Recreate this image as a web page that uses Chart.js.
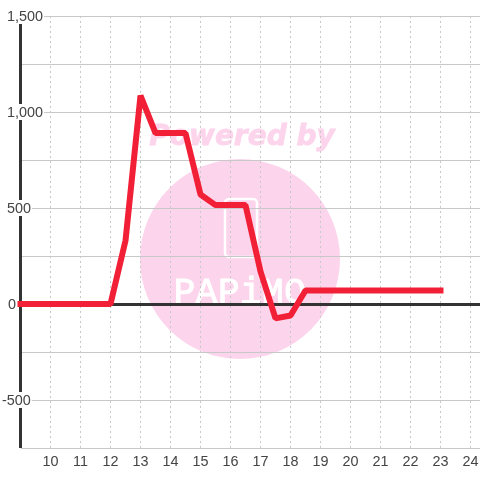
<!DOCTYPE html>
<html><head><meta charset="utf-8">
<style>html,body{margin:0;padding:0;background:#fff}#w{width:480px;height:480px}</style>
<script src="https://cdn.jsdelivr.net/npm/chart.js@4"></script></head>
<body><div id="w"><canvas id="c" width="480" height="480"></canvas></div>
<script>
const xValues=[9,10,11,12,12.5,13,13.5,14,14.5,15,15.5,16,16.5,17,17.5,18,18.5,19,20,21,22,23];
const yValues=[0,0,0,0,330,1085,890,890,890,570,515,515,515,170,-75,-60,70,70,70,70,70,70];
const yTickValues=[1500,1000,500,0,-500];
const yTickLabels=['1,500','1,000','500','0','-500'];
const yTickLeft=[7,7,7,8,2];
const watermarkTitle='Powered by';
const watermarkBrand='PAPiMO';
const font='14.4px "Liberation Sans"';

const watermark={id:'watermark',beforeDraw(ch){
  const g=ch.ctx;g.save();
  g.fillStyle='#fff';g.fillRect(0,0,480,480);
  g.fillStyle='#fcd5ec';
  g.beginPath();g.arc(240,259,100,0,Math.PI*2);g.fill();
  g.font='italic bold 28px "DejaVu Sans"';g.textAlign='center';g.textBaseline='alphabetic';
  g.strokeStyle='#fcd5ec';g.lineWidth=0.8;
  g.fillText(watermarkTitle,242,145);g.strokeText(watermarkTitle,242,145);
  g.strokeStyle='#fff';g.lineWidth=2.5;
  g.beginPath();g.roundRect(225,199,32,58,4);g.stroke();
  g.fillStyle='#fff';g.font='36px "Liberation Mono"';
  g.letterSpacing='0.5px';g.lineWidth=1;
  g.fillText(watermarkBrand,240,303);g.strokeText(watermarkBrand,240,303);
  g.restore();
}};
const axisLabels={id:'axisLabels',afterDatasetsDraw(ch){
  const g=ch.ctx,y=ch.scales.y;g.save();g.font=font;g.textBaseline='middle';g.textAlign='left';
  yTickLabels.forEach((t,i)=>{
    const p=y.getPixelForValue(yTickValues[i]),w=g.measureText(t).width;
    g.fillStyle='#fff';g.fillRect(yTickLeft[i]-1,p-8,w+2,16);
    g.fillStyle='#444';g.fillText(t,yTickLeft[i],p+1);
  });
  g.restore();
}};
const baseLines={id:'baseLines',beforeDatasetsDraw(ch){
  const g=ch.ctx,{x,y}=ch.scales,a=ch.chartArea;g.save();g.strokeStyle='#333';g.lineWidth=3;
  const z=y.getPixelForValue(0)+0.5;
  g.beginPath();g.moveTo(x.left,a.top);g.lineTo(x.left,a.bottom);
  g.moveTo(x.left,z);g.lineTo(480,z);g.stroke();g.restore();
}};
new Chart(document.getElementById('c'),{
  type:'line',
  data:{datasets:[{data:xValues.map((v,i)=>({x:v,y:yValues[i]})),borderColor:'#f22037',borderWidth:6,
    pointRadius:0,tension:0,clip:false,borderJoinStyle:'bevel',borderCapStyle:'square'}]},
  options:{responsive:false,animation:false,
    layout:{padding:{top:16,right:0,left:0,bottom:0}},
    plugins:{legend:{display:false},tooltip:{enabled:false}},
    scales:{
      x:{type:'linear',min:9,max:24.317,
        afterFit(s){s.height=32;s.paddingRight=0;s.paddingLeft=0;},
        afterBuildTicks(s){s.ticks=s.ticks.filter(t=>t.value>=10&&t.value<=24);},
        grid:{color:'#c8c8c8',lineWidth:1,drawTicks:false},
        border:{display:false,dash:[2,3]},
        ticks:{stepSize:1,includeBounds:false,autoSkip:false,maxRotation:0,color:'#444',font:{family:'Liberation Sans',size:14.4},padding:5,callback:v=>String(v)}},
      y:{type:'linear',min:-750,max:1500,
        afterFit(s){s.width=20.5;},
        grid:{color:'#c8c8c8',lineWidth:1,drawTicks:false},
        border:{display:false},
        ticks:{stepSize:250,display:false}}
    }
  },
  plugins:[watermark,baseLines,axisLabels]
});
</script></body></html>
